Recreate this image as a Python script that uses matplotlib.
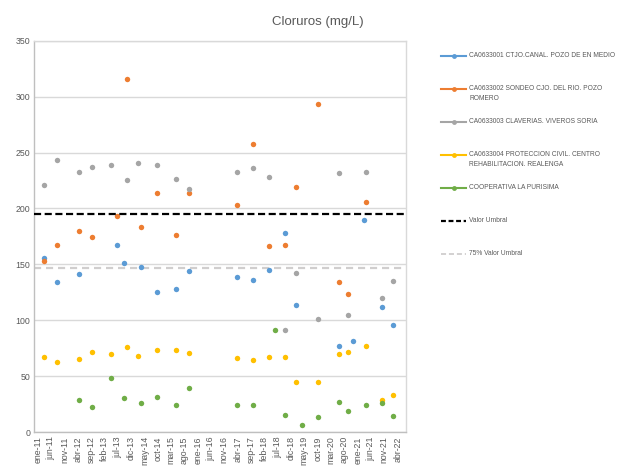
import matplotlib
matplotlib.use("Agg")
import matplotlib.pyplot as plt
from matplotlib.lines import Line2D
import numpy as np

# sampling dates and chloride values (mg/L), NaN = not sampled
DATES = [
    "2011-03-07", "2011-08-13", "2012-04-10", "2012-09-16", "2013-04-16",
    "2013-06-19", "2013-09-16", "2013-10-16", "2014-02-16", "2014-03-19",
    "2014-09-19", "2015-04-22", "2015-09-22", "2017-03-25", "2017-09-25",
    "2018-03-25", "2018-06-01", "2018-09-25", "2019-02-01", "2019-04-01",
    "2019-10-01", "2020-06-04", "2020-09-07", "2020-11-04", "2021-03-07",
    "2021-04-07", "2021-10-07", "2022-02-04",
]
nan = np.nan
POZO_EN_MEDIO = [156, 134, 141, nan, nan, 167, 151, nan, nan, 148,
                 125, 128, 144, 139, 136, 145, nan, 178, 114, nan,
                 nan, 77, nan, 81, 190, nan, 112, 96]
POZO_ROMERO = [153, 167, 180, 174, nan, 193, nan, 316, nan, 183,
               214, 176, 214, 203, 258, 166, nan, 167, 219, nan,
               293, 134, 123, nan, nan, 206, nan, nan]
VIVEROS_SORIA = [221, 243, 233, 237, 239, nan, nan, 225, 241, nan,
                 239, 226, 217, 233, 236, 228, nan, 91, 142, nan,
                 101, 232, 105, nan, nan, 233, 120, 135]
REALENGA = [67, 63, 65, 72, 70, nan, nan, 76, 68, nan,
            73, 73, 71, 66, 64, 67, nan, 67, 45, nan,
            45, 70, 72, nan, nan, 77, 29, 33]
LA_PURISIMA = [nan, nan, 29, 22, 48, nan, 30, nan, nan, 26,
               31, 24, 39, 24, 24, nan, 91, 15, nan, 6,
               13, 27, 19, nan, nan, 24, 26, 14]

VALOR_UMBRAL = 195
UMBRAL_75 = 0.75 * VALOR_UMBRAL

SERIES = [
    ("CA0633001 CTJO.CANAL. POZO DE EN MEDIO", POZO_EN_MEDIO, "#5B9BD5"),
    ("CA0633002 SONDEO CJO. DEL RIO. POZO\nROMERO", POZO_ROMERO, "#ED7D31"),
    ("CA0633003 CLAVERIAS. VIVEROS SORIA", VIVEROS_SORIA, "#A5A5A5"),
    ("CA0633004 PROTECCION CIVIL. CENTRO\nREHABILITACION. REALENGA", REALENGA, "#FFC000"),
    ("COOPERATIVA LA PURISIMA", LA_PURISIMA, "#70AD47"),
]
MESES = ["ene", "feb", "mar", "abr", "may", "jun", "jul", "ago", "sep", "oct", "nov", "dic"]
TICK_START, TICK_END, TICK_STEP = 0, 135, 5  # months since ene-11

TEXT = "#595959"
GRID = "#D9D9D9"
LIGHT_DASH = "#D0CECE"


def month_index(date):
    y, m, d = (int(p) for p in date.split("-"))
    return (y - 2011) * 12 + (m - 1) + (d - 1) / 30.0


def main():
    plt.rcParams["font.family"] = ["Liberation Sans", "DejaVu Sans"]
    W, H = 620, 466
    fig = plt.figure(figsize=(W / 100, H / 100), dpi=100)
    left, right, top, bottom = 34.3, 405.7, 40.7, 432
    ax = fig.add_axes([left / W, 1 - bottom / H, (right - left) / W, (bottom - top) / H])

    x = np.array([month_index(d) for d in DATES])
    for label, vals, color in SERIES:
        ax.plot(x, vals, linestyle="none", marker="o", markersize=3.9,
                color=color, markeredgewidth=0)

    ax.axhline(VALOR_UMBRAL, color="black", linewidth=1.6, dashes=(3.2, 1.6), zorder=3)
    ax.axhline(UMBRAL_75, color=LIGHT_DASH, linewidth=1.6, dashes=(3.2, 2.2), zorder=1)

    ax.set_ylim(0, 350)
    ax.set_yticks(range(0, 351, 50))
    ax.set_xlim(-1.3, 138)
    ticks = list(range(TICK_START, TICK_END + 1, TICK_STEP))
    ax.set_xticks(ticks)
    ax.set_xticklabels([f"{MESES[t % 12]}-{11 + t // 12:02d}" for t in ticks], rotation=90)
    ax.tick_params(axis="both", length=0, labelsize=6.3, colors=TEXT, pad=3)
    ax.grid(axis="y", color=GRID, linewidth=1.0)
    ax.set_axisbelow(True)
    for side in ("top", "right"):
        ax.spines[side].set_color(GRID)
        ax.spines[side].set_linewidth(1.0)
    for side in ("left", "bottom"):
        ax.spines[side].set_color("#BFBFBF")
        ax.spines[side].set_linewidth(1.0)

    fig.text(318 / W, 1 - 22 / H, "Cloruros (mg/L)", ha="center", va="center",
             fontsize=9.5, color=TEXT)

    # legend drawn by hand, one slot every 33 px
    x0, x1 = 441 / W, 466 / W
    styles = [dict(color=c, linewidth=1.5) for _, _, c in SERIES]
    styles.append(dict(color="black", linewidth=1.6, dashes=(2.2, 1.2)))
    styles.append(dict(color=LIGHT_DASH, linewidth=1.3, dashes=(2.8, 1.6)))
    labels = [lab for lab, _, _ in SERIES] + ["Valor Umbral", "75% Valor Umbral"]
    for i, (lab, style) in enumerate(zip(labels, styles)):
        yy = 1 - (56 + 33 * i) / H
        fig.add_artist(Line2D([x0, x1], [yy, yy], transform=fig.transFigure, **style))
        if i < len(SERIES):
            fig.add_artist(Line2D([(x0 + x1) / 2], [yy], transform=fig.transFigure,
                                  linestyle="none", marker="o", markersize=3.5,
                                  color=style["color"], markeredgewidth=0))
        fig.text(469 / W, yy + 4.0 / H, lab, ha="left", va="top", fontsize=4.75,
                 color=TEXT, linespacing=1.6)

    fig.savefig("out.png", dpi=100)


if __name__ == "__main__":
    main()
